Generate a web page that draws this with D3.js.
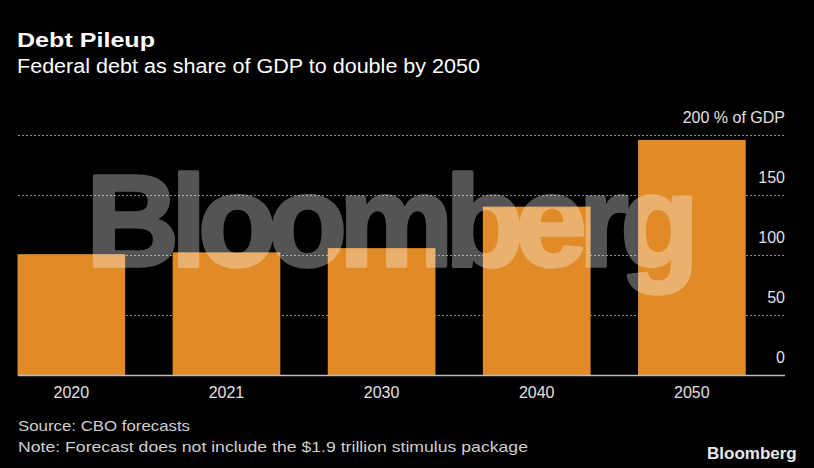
<!DOCTYPE html>
<html>
<head>
<meta charset="utf-8">
<script src="https://cdn.jsdelivr.net/npm/d3@7"></script>
<style>
  body { margin: 0; background: #000; }
  svg { display: block; }
  text { font-family: "Liberation Sans", Arial, sans-serif; }
</style>
</head>
<body>
<div id="chart"></div>
<script>
// Values (% of GDP)
const years = ["2020", "2021", "2030", "2040", "2050"];
const debtShare = [100.5, 102, 105.5, 140, 195.5];
const yTicks = [0, 50, 100, 150, 200];

const width = 814, height = 468;

const svg = d3.select("#chart").append("svg")
  .attr("width", width)
  .attr("height", height)
  .style("background", "#000");

function fit(sel, w) {
  const len = sel.node().getComputedTextLength();
  if (Math.abs(len - w) > 2) sel.attr("textLength", w).attr("lengthAdjust", "spacingAndGlyphs");
  return sel;
}

// Title + subtitle
fit(svg.append("text")
  .attr("x", 17).attr("y", 47)
  .style("font-size", "21px").style("font-weight", "bold")
  .style("fill", "#fff")
  .text("Debt Pileup"), 138);

fit(svg.append("text")
  .attr("x", 17).attr("y", 73)
  .style("font-size", "20px")
  .style("fill", "#fff")
  .text("Federal debt as share of GDP to double by 2050"), 463);

// Scales
const x = d3.scaleBand()
  .domain(years)
  .range([17.5, 745.7])
  .paddingInner(0.306)
  .paddingOuter(0);

const y = d3.scaleLinear()
  .domain([0, 200])
  .range([375, 134.5]);

const gridRight = 785;

// dotted gridlines
svg.append("g")
  .selectAll("line")
  .data(yTicks.filter(d => d > 0))
  .join("line")
    .attr("x1", 18).attr("x2", gridRight)
    .attr("y1", d => Math.round(y(d)) + 0.5)
    .attr("y2", d => Math.round(y(d)) + 0.5)
    .attr("stroke", "#8a8a8a")
    .attr("stroke-width", 1)
    .attr("stroke-dasharray", "2,2");

// tick labels, right aligned above lines
svg.append("g")
  .selectAll("text")
  .data(yTicks)
  .join("text")
    .attr("x", gridRight)
    .attr("y", d => y(d) - 12)
    .attr("text-anchor", "end")
    .style("font-size", "16px")
    .style("fill", "#e0e0e0")
    .text(d => d === 200 ? "200 % of GDP" : d);

// bars
svg.append("g")
  .selectAll("rect")
  .data(debtShare)
  .join("rect")
    .attr("x", (d, i) => x(years[i]))
    .attr("y", d => y(d))
    .attr("width", x.bandwidth())
    .attr("height", d => y(0) - y(d))
    .attr("fill", "#e08b27");

// baseline
svg.append("line")
  .attr("x1", 18).attr("x2", gridRight)
  .attr("y1", y(0) + 0.5).attr("y2", y(0) + 0.5)
  .attr("stroke", "#bdbdbd")
  .attr("stroke-width", 1.5);

// x labels
svg.append("g")
  .selectAll("text")
  .data(years)
  .join("text")
    .attr("x", d => x(d) + x.bandwidth() / 2)
    .attr("y", 398)
    .attr("text-anchor", "middle")
    .style("font-size", "16px")
    .style("fill", "#e0e0e0")
    .text(d => d);

// watermark - group opacity so the heavier stroke doesn't double up
svg.append("g")
  .attr("opacity", 0.33)
  .append("text")
    .attr("x", 86).attr("y", 266)
    .style("font-size", "129px")
    .style("font-weight", "bold")
    .style("fill", "#fff")
    .style("stroke", "#fff")
    .style("stroke-width", 3.5)
    .style("stroke-linejoin", "round")
    .attr("textLength", 613)
    .attr("lengthAdjust", "spacing")
    .text("Bloomberg");

// footer
fit(svg.append("text")
  .attr("x", 18).attr("y", 431)
  .style("font-size", "15px")
  .style("fill", "#cfcfcf")
  .text("Source: CBO forecasts"), 172);

fit(svg.append("text")
  .attr("x", 18).attr("y", 452)
  .style("font-size", "15px")
  .style("fill", "#cfcfcf")
  .text("Note: Forecast does not include the $1.9 trillion stimulus package"), 510);

fit(svg.append("text")
  .attr("x", 707).attr("y", 459)
  .style("font-size", "17px")
  .style("font-weight", "bold")
  .style("fill", "#e8e8e8")
  .text("Bloomberg"), 90);
</script>
</body>
</html>
